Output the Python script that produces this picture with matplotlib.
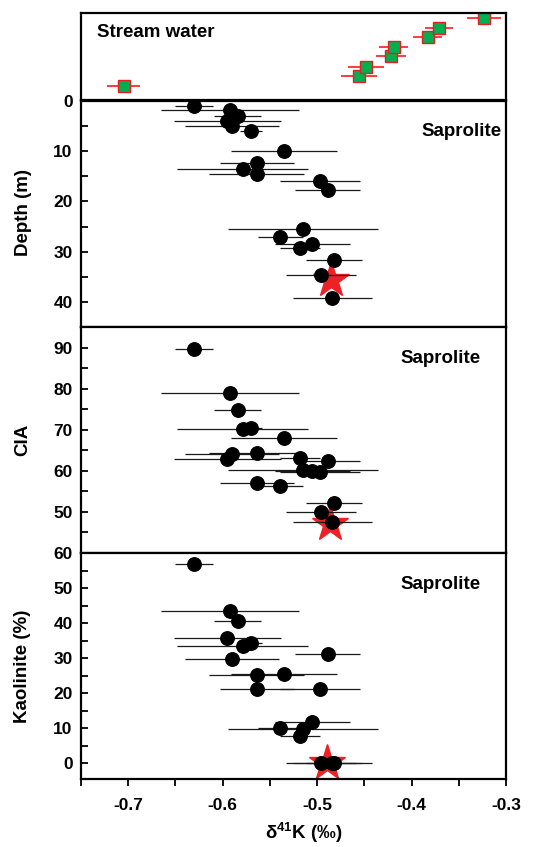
import matplotlib
matplotlib.use("Agg")
import matplotlib.pyplot as plt
from matplotlib.ticker import MultipleLocator

plt.rcParams['font.family'] = ['Liberation Sans', 'DejaVu Sans']
plt.rcParams['font.weight'] = 'bold'
plt.rcParams['mathtext.fontset'] = 'custom'
plt.rcParams['mathtext.bf'] = 'Liberation Sans:bold'
plt.rcParams['mathtext.rm'] = 'Liberation Sans:bold'

# ---- Stream water ----
stream_d41k = [-0.705, -0.456, -0.448, -0.422, -0.419, -0.383, -0.371, -0.323]
stream_err = [0.017, 0.019, 0.019, 0.016, 0.015, 0.015, 0.015, 0.018]
stream_y = [0.16, 0.28, 0.38, 0.50, 0.61, 0.72, 0.83, 0.94]

# ---- Saprolite samples ----
sap_d41k = [-0.630, -0.592, -0.584, -0.595, -0.590, -0.570, -0.535, -0.564, -0.579, -0.564,
            -0.497, -0.489, -0.515, -0.539, -0.505, -0.518, -0.482, -0.496, -0.484]
sap_err = [0.020, 0.073, 0.025, 0.057, 0.050, 0.012, 0.056, 0.039, 0.069, 0.050,
           0.042, 0.034, 0.079, 0.024, 0.040, 0.021, 0.030, 0.037, 0.042]
sap_depth = [0.9, 1.8, 2.9, 3.9, 5.0, 5.9, 10.0, 12.4, 13.5, 14.5,
             15.9, 17.7, 25.5, 27.0, 28.4, 29.3, 31.6, 34.6, 39.3]
sap_cia = [89.7, 79.0, 74.7, 62.9, 64.2, 70.3, 67.9, 57.1, 70.2, 64.3,
           59.8, 62.5, 60.3, 56.4, 60.0, 63.2, 52.1, 50.0, 47.5]
sap_kaol = [56.9, 43.5, 40.7, 35.6, 29.7, 34.2, 25.6, 21.1, 33.5, 25.1,
            21.1, 31.1, 9.9, 10.1, 11.8, 7.7, 0.2, 0.2, 0.2]

# ---- Bedrock (star) ----
rock_d41k = [-0.485, -0.486, -0.490]
rock_depth = 35.6
rock_cia = 47.0
rock_kaol = 0.0

xticks = [-0.7, -0.6, -0.5, -0.4, -0.3]
xticklabels = ['-0.7', '-0.6', '-0.5', '-0.4', '-0.3']

W, H = 539, 847
fig = plt.figure(figsize=(W / 100, H / 100), dpi=100)

def rect(top, bottom, left=81, right=506):
    return [left / W, 1 - bottom / H, (right - left) / W, (bottom - top) / H]

ax0 = fig.add_axes(rect(13, 100))
ax1 = fig.add_axes(rect(101, 327))
ax2 = fig.add_axes(rect(327, 553))
ax3 = fig.add_axes(rect(553, 779))

TICKFS = 12.5
LABFS = 13.5

for ax in (ax0, ax1, ax2, ax3):
    ax.set_xlim(-0.75, -0.3)
    ax.xaxis.set_minor_locator(MultipleLocator(0.05))
    ax.set_xticks(xticks)
    ax.tick_params(axis='x', which='both', direction='out', length=5, width=1.3,
                   top=False, bottom=True, labelbottom=False)
    ax.tick_params(axis='y', which='both', direction='in', length=5, width=1.3,
                   labelsize=TICKFS, pad=6)
    for s in ax.spines.values():
        s.set_linewidth(1.6)
        s.set_zorder(10)

# Stream water panel
ax0.set_ylim(0, 1)
ax0.set_yticks([])
ax0.errorbar(stream_d41k, stream_y, xerr=stream_err, fmt='s', ms=9,
             mfc='#00b050', mec='#e41e25', mew=1.0, ecolor='#ff1a1a',
             elinewidth=1.2, capsize=0, zorder=3)
ax0.text(0.038, 0.78, 'Stream water', transform=ax0.transAxes, fontsize=LABFS,
         fontweight='bold', ha='left', va='center')

def sap_panel(ax, yvals, ystar, xstar):
    ax.plot([xstar], [ystar], marker='*', ms=27, color='#ec2227', mec='#ec2227',
            linestyle='none', zorder=2)
    ax.errorbar(sap_d41k, yvals, xerr=sap_err, fmt='none', ecolor='#1a1a1a',
                elinewidth=0.9, capsize=0, zorder=3)
    ax.plot(sap_d41k, yvals, 'o', ms=9.7, color='black', zorder=4, linestyle='none')

# Depth panel
sap_panel(ax1, sap_depth, rock_depth, rock_d41k[0])
ax1.set_ylim(45, 0)
ax1.yaxis.set_minor_locator(MultipleLocator(5))
ax1.set_yticks([0, 10, 20, 30, 40])
ax1.set_yticklabels(['0', '10', '20', '30', '40'], fontsize=TICKFS, fontweight='bold')
ax1.text(0.99, 0.865, 'Saprolite', transform=ax1.transAxes, fontsize=LABFS,
         fontweight='bold', ha='right', va='center')

# CIA panel
sap_panel(ax2, sap_cia, rock_cia, rock_d41k[1])
ax2.set_ylim(40, 95)
ax2.yaxis.set_minor_locator(MultipleLocator(5))
ax2.set_yticks([50, 60, 70, 80, 90])
ax2.set_yticklabels(['50', '60', '70', '80', '90'], fontsize=TICKFS, fontweight='bold')
ax2.text(0.94, 0.86, 'Saprolite', transform=ax2.transAxes, fontsize=LABFS,
         fontweight='bold', ha='right', va='center')

# Kaolinite panel
sap_panel(ax3, sap_kaol, rock_kaol, rock_d41k[2])
ax3.set_ylim(-4.5, 60)
ax3.yaxis.set_minor_locator(MultipleLocator(5))
ax3.set_yticks([0, 10, 20, 30, 40, 50, 60])
ax3.set_yticklabels(['0', '10', '20', '30', '40', '50', '60'], fontsize=TICKFS, fontweight='bold')
ax3.text(0.94, 0.86, 'Saprolite', transform=ax3.transAxes, fontsize=LABFS,
         fontweight='bold', ha='right', va='center')
ax3.tick_params(axis='x', labelbottom=True, labelsize=TICKFS, pad=9)
ax3.set_xticklabels(xticklabels, fontsize=TICKFS, fontweight='bold')

# Axis labels
fig.text(23 / W, 1 - 212 / H, 'Depth (m)', rotation=90, fontsize=LABFS,
         fontweight='bold', ha='center', va='center')
fig.text(23 / W, 1 - 440 / H, 'CIA', rotation=90, fontsize=LABFS,
         fontweight='bold', ha='center', va='center')
fig.text(23 / W, 1 - 666 / H, 'Kaolinite (%)', rotation=90, fontsize=LABFS,
         fontweight='bold', ha='center', va='center')
fig.text(304 / W, 1 - 833 / H, r'δ$\mathbf{^{41}}$K (‰)', fontsize=LABFS,
         fontweight='bold', ha='center', va='center')

fig.savefig('out.png', dpi=100)
